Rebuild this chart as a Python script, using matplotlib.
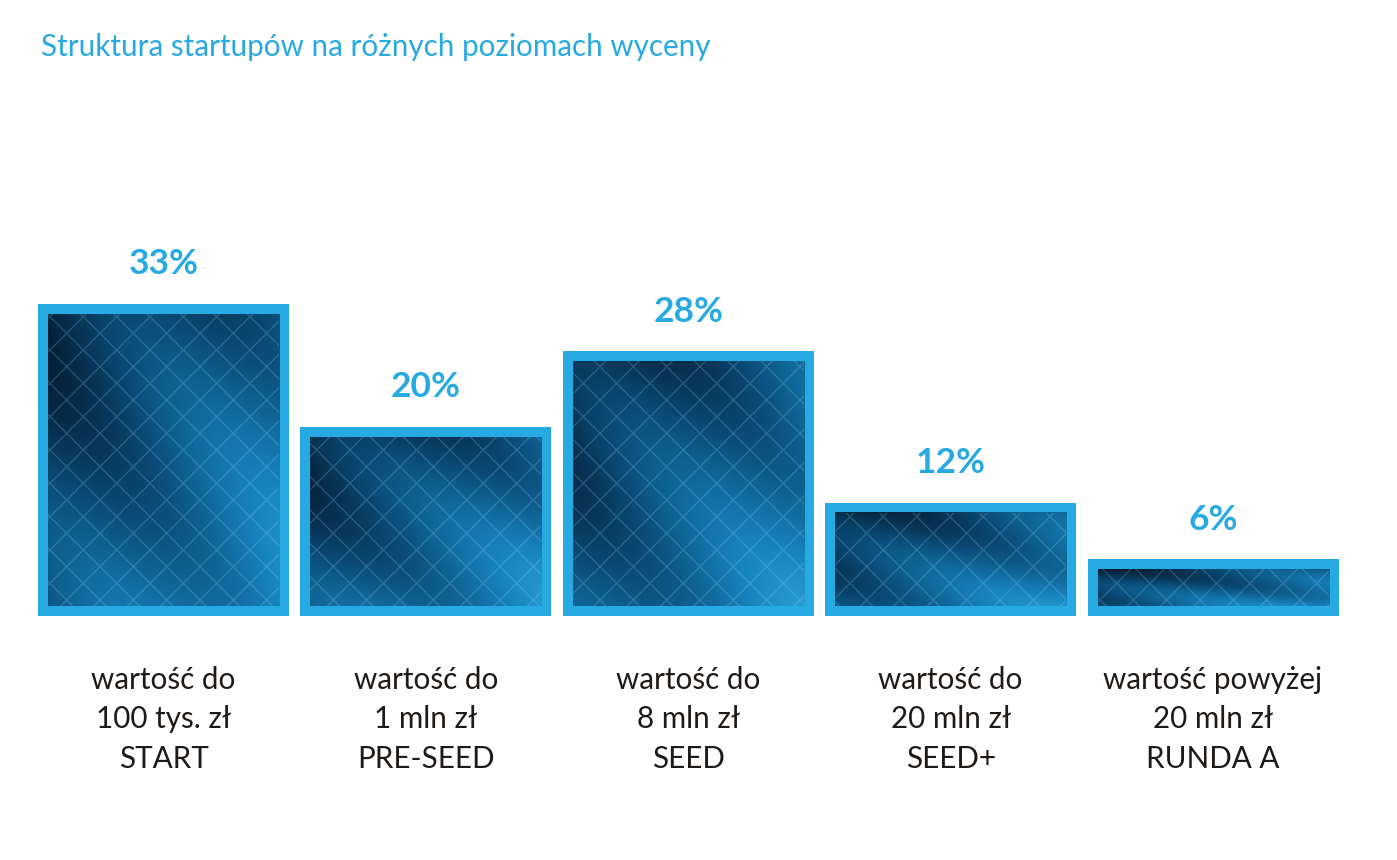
#!/usr/bin/env python3

import numpy as np
import matplotlib
matplotlib.use("Agg")
import matplotlib.pyplot as plt
from matplotlib.colors import LinearSegmentedColormap
from matplotlib.patches import Rectangle

# chart data.
title = "Struktura startupów na różnych poziomach wyceny"
shares = [33, 20, 28, 12, 6]
value_labels = ["wartość do\n100 tys. zł\nSTART",
                "wartość do\n1 mln zł\nPRE-SEED",
                "wartość do\n8 mln zł\nSEED",
                "wartość do\n20 mln zł\nSEED+",
                "wartość powyżej\n20 mln zł\nRUNDA A"]

# style.
blue = "#27a9e1"
text_dark = "#1f1a17"
plt.rcParams["font.family"] = ["Lato", "DejaVu Sans"]

fig = plt.figure(figsize=(13.97, 8.6), dpi=100)
ax = fig.add_axes([0, 0, 1, 1])
ax.set_xlim(-0.623, 4.701)
ax.set_ylim(-25.82, 65.19)
ax.axis("off")

# texture colours for inner panels.
cmap = LinearSegmentedColormap.from_list("cube", ["#041c33", "#0b4f7c", "#1784bd", "#3fb8e6"])
gy, gx = np.mgrid[0:1:200j, 0:1:200j]

width = 0.957
border_x = 10 / 262.4
border_y = 10 / 9.45
x = np.arange(len(shares))
bars = ax.bar(x, shares, width=width, color=blue, linewidth=0, zorder=1)
for i, bar in enumerate(bars):
    x0 = bar.get_x() + border_x
    x1 = bar.get_x() + bar.get_width() - border_x
    y0 = border_y
    y1 = bar.get_height() - border_y
    # inner gradient panel.
    shade = 0.45 * gx + 0.4 * (1 - gy) + 0.15 * np.sin(6 * (gx + gy) + i)
    ax.imshow(shade, cmap=cmap, extent=(x0, x1, y0, y1), aspect="auto",
              origin="lower", zorder=2, vmin=-0.1, vmax=1.25)
    ax.add_patch(Rectangle((x0, y0), x1 - x0, y1 - y0, fill=False, hatch="/\\",
                           edgecolor="#8fdcff", linewidth=0, alpha=0.22, zorder=3))
    # percentage label.
    ax.text(bar.get_x() + bar.get_width() / 2, bar.get_height() + 4.2,
            f"{shares[i]}%", ha="center", va="center", fontsize=25.5,
            fontweight="bold", color=blue)
    # category label.
    ax.text(bar.get_x() + bar.get_width() / 2, -10.9, value_labels[i],
            ha="center", va="center", fontsize=21.3, color=text_dark, linespacing=1.5)

fig.text(41 / 1397, 1 - 47 / 860, title, ha="left", va="center",
         fontsize=21.3, color=blue)

fig.savefig("out.png", dpi=100)
